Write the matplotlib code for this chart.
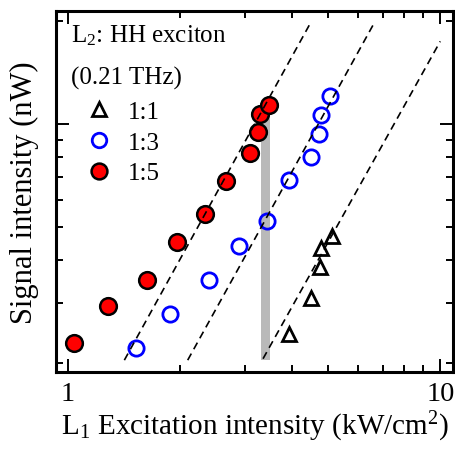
import numpy as np
import matplotlib
matplotlib.use('Agg')
import matplotlib.pyplot as plt
from matplotlib.ticker import FixedLocator, NullFormatter, FixedFormatter, LogLocator

plt.rcParams['font.family'] = ['Liberation Serif', 'DejaVu Serif']
plt.rcParams['mathtext.fontset'] = 'custom'
plt.rcParams['mathtext.rm'] = 'Liberation Serif'
plt.rcParams['mathtext.it'] = 'Liberation Serif:italic'

# ratio 1:5
x15 = [1.040, 1.285, 1.635, 1.961, 2.336, 2.668, 3.080, 3.242, 3.288, 3.470]
y15 = [0.229, 0.294, 0.351, 0.453, 0.546, 0.680, 0.823, 0.946, 1.070, 1.139]
# ratio 1:3
x13 = [1.525, 1.882, 2.394, 2.877, 3.421, 3.919, 4.489, 4.717, 4.793, 5.068]
y13 = [0.221, 0.278, 0.350, 0.440, 0.521, 0.686, 0.801, 0.935, 1.065, 1.205]
# ratio 1:1
x11 = [3.926, 4.506, 4.746, 4.793, 5.121]
y11 = [0.243, 0.311, 0.382, 0.435, 0.471]

# quadratic guide lines (start, end)
fit_x = [[1.419, 4.478], [2.099, 6.640], [3.344, 10.0]]
fit_y = [[0.204, 1.970], [0.204, 1.970], [0.206, 1.745]]

# gray band
band_x = [3.298, 3.497]
band_y = [0.204, 1.10]

fig = plt.figure(figsize=(4.56, 4.64), dpi=100)
ax = fig.add_axes([0.1224, 0.1955, 0.8717, 0.7793])
ax.set_xscale('log')
ax.set_yscale('log')

ax.fill_between(band_x, band_y[0], band_y[1], color='#b9b9b9', lw=0, zorder=1)

l1, = ax.plot(x11, y11, '^', ms=10.5, mfc='none', mec='black', mew=2, ls='none', zorder=3, label='1:1')
l3, = ax.plot(x13, y13, 'o', ms=11, mfc='none', mec='#0000ff', mew=2, ls='none', zorder=3, label='1:3')
l5, = ax.plot(x15, y15, 'o', ms=12, mfc='#ff0000', mec='black', mew=1.8, ls='none', zorder=3, label='1:5')

for fx, fy in zip(fit_x, fit_y):
    ax.plot(fx, fy, color='black', lw=1.2, dashes=(4.5, 3), zorder=4)

ax.set_xlim(0.929, 10.84)
ax.set_ylim(0.188, 2.145)

ax.xaxis.set_major_locator(FixedLocator([1, 10]))
ax.xaxis.set_major_formatter(FixedFormatter(['1', '10']))
ax.xaxis.set_minor_locator(LogLocator(base=10, subs=np.arange(2, 10)))
ax.xaxis.set_minor_formatter(NullFormatter())
ax.yaxis.set_major_locator(FixedLocator([1]))
ax.yaxis.set_major_formatter(NullFormatter())
ax.yaxis.set_minor_locator(LogLocator(base=10, subs=np.arange(2, 10)))
ax.yaxis.set_minor_formatter(NullFormatter())

ax.tick_params(which='both', direction='in', top=True, right=True, width=1.4)
ax.tick_params(which='major', length=9.4, labelsize=20.5, pad=6)
ax.tick_params(which='minor', length=5)
for s in ax.spines.values():
    s.set_linewidth(2.2)

ax.set_xlabel('L$_1$ Excitation intensity (kW/cm$^2$)', fontsize=21, labelpad=2)
ax.set_ylabel('Signal intensity (nW)', fontsize=22, labelpad=6)

ax.text(0.038, 0.933, 'L$_2$: HH exciton', transform=ax.transAxes, fontsize=18, va='center', ha='left')
ax.text(0.038, 0.816, '(0.21 THz)', transform=ax.transAxes, fontsize=18, va='center', ha='left')

leg = ax.legend(handles=[l1, l3, l5], loc='upper left', bbox_to_anchor=(0.0825, 0.752),
                frameon=False, fontsize=18, borderpad=0, borderaxespad=0,
                handlelength=0.8, handletextpad=0.76, labelspacing=0.33, markerscale=0.95)

fig.savefig('out.png', dpi=100)
